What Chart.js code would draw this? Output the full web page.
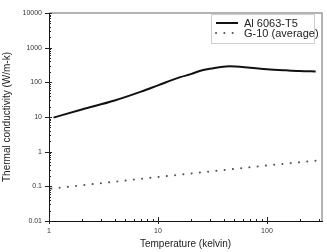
<!DOCTYPE html>
<html>
<head>
<meta charset="utf-8">
<script src="https://cdn.jsdelivr.net/npm/chart.js@4"></script>
<style>
  html, body { margin: 0; padding: 0; background: #fff; }
  #wrap { width: 327px; height: 252px; }
</style>
</head>
<body>
<div id="wrap"><canvas id="chart" width="327" height="252"></canvas></div>
<script>
// Al 6063-T5 curve
const alTemps = [1.1, 2, 4, 7, 10, 16, 20, 25, 30, 45, 70, 100, 150, 200, 280];
const alValues = [9.6, 16.5, 30, 54, 82, 141, 172, 220, 245, 290, 265, 240, 222, 212, 207];
// G-10 (average)
const g10Temps = [1.05, 10, 100, 280];
const g10Values = [0.086, 0.186, 0.4, 0.55];

const xTickLabels = [1, 10, 100];
const yTickLabels = [0.01, 0.1, 1, 10, 100, 1000, 10000];
const seriesNames = ["Al 6063-T5", "G-10 (average)"];

const toPoints = (xs, ys) => xs.map((x, i) => ({ x: x, y: ys[i] }));

// minor ticks for a log axis between min and max
function logTicks(min, max) {
  const out = [];
  for (let d = Math.floor(Math.log10(min)); d <= Math.ceil(Math.log10(max)); d++) {
    for (let m = 1; m < 10; m++) {
      const v = m * Math.pow(10, d);
      if (v >= min && v <= max) out.push({ v: v, major: m === 1 });
    }
  }
  return out;
}

// frame, inside ticks and legend box
const framePlugin = {
  id: "frame",
  afterDraw(chart) {
    const ctx = chart.ctx;
    const a = chart.chartArea;
    const xs = chart.scales.x, ys = chart.scales.y;
    ctx.save();
    ctx.strokeStyle = "#9a9a9a";
    ctx.lineWidth = 1.5;
    ctx.beginPath();
    ctx.moveTo(a.left, a.top);
    ctx.lineTo(a.right, a.top);
    ctx.lineTo(a.right, a.bottom);
    ctx.stroke();

    ctx.strokeStyle = "#222";
    ctx.lineWidth = 1;
    ctx.beginPath();
    logTicks(ys.min, ys.max).forEach(t => {
      const py = Math.round(ys.getPixelForValue(t.v)) + 0.5;
      ctx.moveTo(a.left - (t.major ? 4 : 0), py);
      ctx.lineTo(a.left + (t.major ? 3 : 2), py);
    });
    logTicks(xs.min, xs.max).forEach(t => {
      const px = Math.round(xs.getPixelForValue(t.v)) + 0.5;
      ctx.moveTo(px, a.bottom + (t.major ? 3 : 0));
      ctx.lineTo(px, a.bottom - (t.major ? 4 : 2));
    });
    ctx.stroke();

    // legend
    const lx = 211, ly = 14, lw = 103, lh = 29;
    ctx.strokeStyle = "#cfcfcf";
    ctx.strokeRect(lx + 0.5, ly + 0.5, lw, lh);
    ctx.font = "11px 'Liberation Sans', Arial, sans-serif";
    ctx.textBaseline = "middle";
    chart.data.datasets.forEach((ds, i) => {
      const yy = ly + 9 + i * 10;
      ctx.save();
      ctx.strokeStyle = ds.borderColor;
      ctx.lineWidth = ds.borderWidth;
      ctx.lineCap = ds.borderCapStyle || "butt";
      ctx.setLineDash(ds.borderDash || []);
      ctx.beginPath();
      ctx.moveTo(lx + 5, yy);
      ctx.lineTo(lx + 27, yy);
      ctx.stroke();
      ctx.restore();
      ctx.fillStyle = "#222";
      ctx.fillText(ds.label, lx + 33, yy + 0.5);
    });
    ctx.restore();
  }
};

new Chart(document.getElementById("chart"), {
  type: "line",
  data: {
    datasets: [
      {
        label: seriesNames[0],
        data: toPoints(alTemps, alValues),
        borderColor: "#111",
        borderWidth: 2,
        pointRadius: 0,
        cubicInterpolationMode: "monotone"
      },
      {
        label: seriesNames[1],
        data: toPoints(g10Temps, g10Values),
        borderColor: "#555",
        borderWidth: 2,
        borderDash: [0.1, 8.2],
        borderCapStyle: "round",
        pointRadius: 0,
        tension: 0
      }
    ]
  },
  options: {
    responsive: false,
    animation: false,
    layout: { padding: { top: 13, right: 5, left: 0, bottom: 0 } },
    plugins: { legend: { display: false }, tooltip: { enabled: false } },
    scales: {
      x: {
        type: "logarithmic",
        min: 1,
        max: 320,
        afterBuildTicks: s => { s.ticks = xTickLabels.map(v => ({ value: v })); },
        afterFit: s => { s.height = 31; },
        ticks: {
          color: "#333",
          font: { size: 7, family: "'Liberation Sans', Arial, sans-serif" },
          padding: 6,
          maxRotation: 0,
          callback: v => String(v)
        },
        grid: { display: false, drawTicks: false },
        border: { color: "#111", width: 1 },
        title: {
          display: true,
          text: "Temperature (kelvin)",
          color: "#222",
          font: { size: 10, family: "'Liberation Sans', Arial, sans-serif" },
          padding: { top: 4, bottom: 2 }
        }
      },
      y: {
        type: "logarithmic",
        min: 0.01,
        max: 10000,
        afterBuildTicks: s => { s.ticks = yTickLabels.map(v => ({ value: v })); },
        afterFit: s => { s.width = 49; },
        ticks: {
          color: "#333",
          font: { size: 7, family: "'Liberation Sans', Arial, sans-serif" },
          padding: 7,
          callback: v => String(v)
        },
        grid: { display: false, drawTicks: false },
        border: { color: "#111", width: 1 },
        title: {
          display: true,
          text: "Thermal conductivity (W/m-k)",
          color: "#222",
          font: { size: 10, family: "'Liberation Sans', Arial, sans-serif" },
          padding: { top: 1, bottom: 0 }
        }
      }
    }
  },
  plugins: [framePlugin]
});
</script>
</body>
</html>
